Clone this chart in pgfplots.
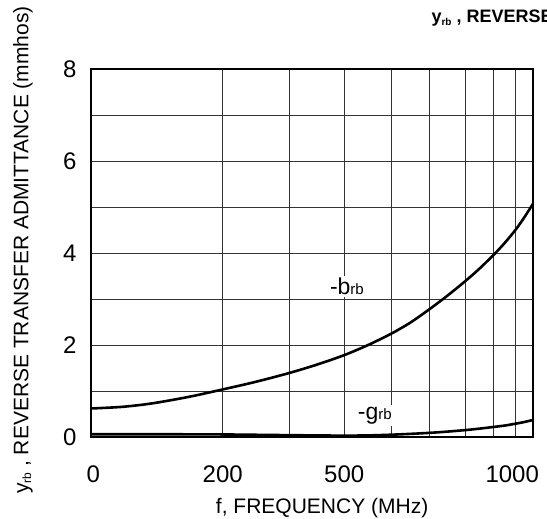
\documentclass[border=0pt]{standalone}
\usepackage{fontspec}
\setmainfont{Liberation Sans}
\usepackage{pgfplots}
\pgfplotsset{compat=1.18}
\begin{document}
\begin{tikzpicture}
\begin{axis}[
  at={(0pt,0pt)}, anchor=south west,
  scale only axis, width=442pt, height=368pt,
  xmin=0, xmax=1000, ymin=0, ymax=8,
  xtick={5,298,573,953}, xticklabels={0,200,500,1000},
  minor xtick={298,448,573,680,766,847,910,960},
  ytick={0,2,4,6,8}, minor ytick={1,3,5,7},
  ymajorgrids, yminorgrids, xminorgrids,
  major tick length=0pt, minor tick length=0pt,
  grid style={black!80, line width=0.8pt},
  minor grid style={black!80, line width=0.8pt},
  axis line style={line width=1.6pt},
  tick label style={font=\fontsize{24}{28}\selectfont},
  /pgf/number format/assume math mode=true,
  xticklabel style={yshift=-25pt},
  yticklabel style={xshift=-11pt},
  xlabel={f, FREQUENCY (MHz)},
  ylabel={y\raisebox{-0.25ex}{\fontsize{12}{12}\selectfont rb} , REVERSE TRANSFER ADMITTANCE (mmhos)},
  label style={font=\fontsize{21}{25}\selectfont},
  xlabel style={at={([yshift=-71pt]rel axis cs:0.523,0)}, anchor=center},
  ylabel style={at={([xshift=-68pt]rel axis cs:0,0.508)}, anchor=center},
  clip=false,
]
\addplot[line width=2.6pt, smooth] coordinates {
(0,0.62) (70,0.655) (137,0.729) (220,0.87) (298,1.034) (373,1.20) (448,1.39)
(510,1.57) (573,1.78) (627,2.0) (680,2.25) (723,2.49) (766,2.78) (806,3.07)
(847,3.39) (880,3.67) (914,3.99) (937,4.23) (961,4.51) (980,4.77) (1000,5.07)
};
\addplot[line width=2.6pt, smooth] coordinates {
(0,0.06) (150,0.06) (300,0.055) (400,0.045) (500,0.035) (573,0.03) (630,0.035)
(680,0.05) (723,0.068) (766,0.09) (806,0.117) (847,0.15) (880,0.183) (914,0.222)
(937,0.25) (961,0.29) (980,0.325) (1000,0.37)
};
\node[fill=white, inner sep=2pt, font=\fontsize{23}{26}\selectfont, anchor=base]
  at (axis cs:579,3.09) {-b{\fontsize{15}{15}\selectfont rb}};
\node[fill=white, inner sep=2pt, font=\fontsize{23}{26}\selectfont, anchor=base]
  at (axis cs:642,0.39) {-g{\fontsize{15}{15}\selectfont rb}};
\end{axis}
\node[anchor=base west, font=\bfseries\fontsize{18}{21}\selectfont]
  at (337pt,414pt) {y\raisebox{-0.25ex}{\fontsize{10}{10}\selectfont rb} , REVERSE TRANSFER ADMITTANCE};
\pgfresetboundingbox
\path[use as bounding box] (-91pt,-82pt) rectangle (456pt,437pt);
\end{tikzpicture}
\end{document}
